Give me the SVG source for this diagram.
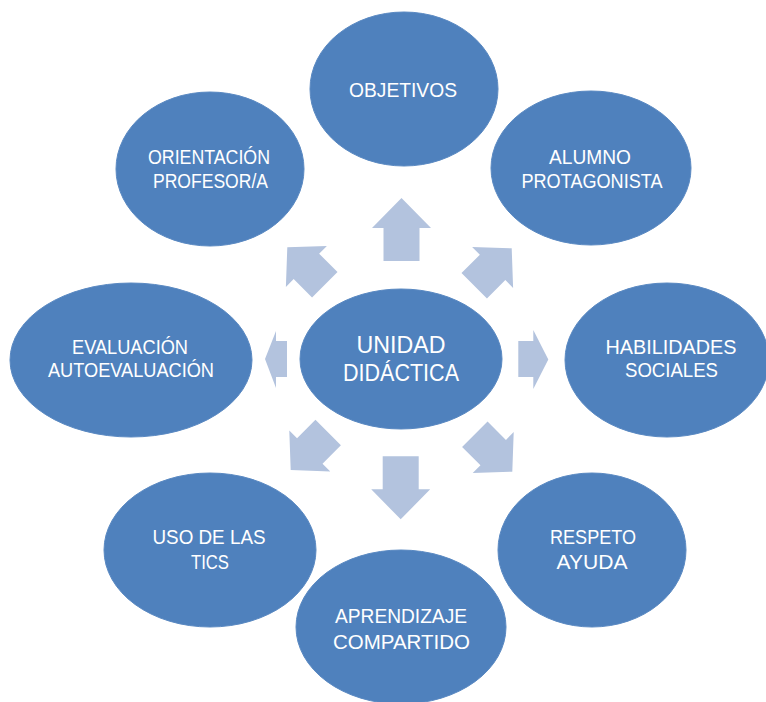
<svg xmlns="http://www.w3.org/2000/svg" width="766" height="702" viewBox="0 0 766 702">
<defs>
<style>
.node ellipse{fill:#4F81BD;stroke:#5A89C2;stroke-width:1}
.node text{fill:#FFFFFF;font-family:"Liberation Sans",Arial,sans-serif;font-size:19.5px;text-anchor:middle}
.center text{font-size:24px}
.arrow{fill:#B3C3DE}
</style>
<path id="arr" d="M0,0 L29.5,30 L18,30 L18,63 L-18,63 L-18,30 L-29.5,30 Z"/>
<path id="darr" d="M0,0 L29,27 L18,27 L18,53 L-18,53 L-18,27 L-29,27 Z"/>
</defs>
<rect width="766" height="702" fill="#FFFFFF"/>
<g id="connectors" class="arrow">
<use href="#arr" transform="translate(401.5,198)"/>
<use href="#arr" transform="translate(400.7,519.3) rotate(180)"/>
<use href="#darr" transform="translate(287.3,247.3) rotate(-45)"/>
<use href="#darr" transform="translate(511.7,248.3) rotate(45)"/>
<use href="#darr" transform="translate(290.7,470) rotate(-135)"/>
<use href="#darr" transform="translate(512.3,471.7) rotate(135)"/>
<path d="M265,359 L276,331 L276,341 L287,341 L287,377 L276,377 L276,388 Z"/>
<path d="M548.3,359.5 L533.3,330 L533.3,341 L518.3,341 L518.3,377 L533.3,377 L533.3,389 Z"/>
</g>
<g id="objetivos" class="node">
<ellipse cx="404" cy="89" rx="94" ry="77"/>
<text x="403" y="96.5" textLength="108" lengthAdjust="spacingAndGlyphs">OBJETIVOS</text>
</g>
<g id="orientacion" class="node">
<ellipse cx="210" cy="169" rx="94" ry="77"/>
<text x="209" y="164" textLength="122" lengthAdjust="spacingAndGlyphs">ORIENTACIÓN</text>
<text x="210.5" y="188" textLength="115" lengthAdjust="spacingAndGlyphs">PROFESOR/A</text>
</g>
<g id="alumno" class="node">
<ellipse cx="591" cy="168" rx="100" ry="77"/>
<text x="590" y="164" textLength="82" lengthAdjust="spacingAndGlyphs">ALUMNO</text>
<text x="592" y="188" textLength="141" lengthAdjust="spacingAndGlyphs">PROTAGONISTA</text>
</g>
<g id="evaluacion" class="node">
<ellipse cx="131" cy="360" rx="121" ry="77"/>
<text x="130" y="354.3" textLength="116" lengthAdjust="spacingAndGlyphs">EVALUACIÓN</text>
<text x="131" y="377.3" textLength="166" lengthAdjust="spacingAndGlyphs">AUTOEVALUACIÓN</text>
</g>
<g id="unidad" class="node center">
<ellipse cx="401" cy="359" rx="101" ry="70"/>
<text x="401" y="352.7" textLength="89" lengthAdjust="spacingAndGlyphs">UNIDAD</text>
<text x="401" y="381" textLength="116" lengthAdjust="spacingAndGlyphs">DIDÁCTICA</text>
</g>
<g id="habilidades" class="node">
<ellipse cx="667" cy="360" rx="102" ry="77"/>
<text x="671" y="354.3" textLength="131" lengthAdjust="spacingAndGlyphs">HABILIDADES</text>
<text x="671.5" y="377.3" textLength="93" lengthAdjust="spacingAndGlyphs">SOCIALES</text>
</g>
<g id="uso" class="node">
<ellipse cx="210" cy="550" rx="106" ry="77"/>
<text x="209" y="544.3" textLength="113" lengthAdjust="spacingAndGlyphs">USO DE LAS</text>
<text x="210" y="568.5" textLength="38" lengthAdjust="spacingAndGlyphs">TICS</text>
</g>
<g id="respeto" class="node">
<ellipse cx="592" cy="550" rx="94" ry="77"/>
<text x="593" y="544.3" textLength="86" lengthAdjust="spacingAndGlyphs">RESPETO</text>
<text x="592" y="568.5" textLength="71" lengthAdjust="spacingAndGlyphs">AYUDA</text>
</g>
<g id="aprendizaje" class="node">
<ellipse cx="401" cy="627" rx="105" ry="77"/>
<text x="401" y="623.3" textLength="132" lengthAdjust="spacingAndGlyphs">APRENDIZAJE</text>
<text x="401.5" y="649" textLength="137" lengthAdjust="spacingAndGlyphs">COMPARTIDO</text>
</g>
</svg>
